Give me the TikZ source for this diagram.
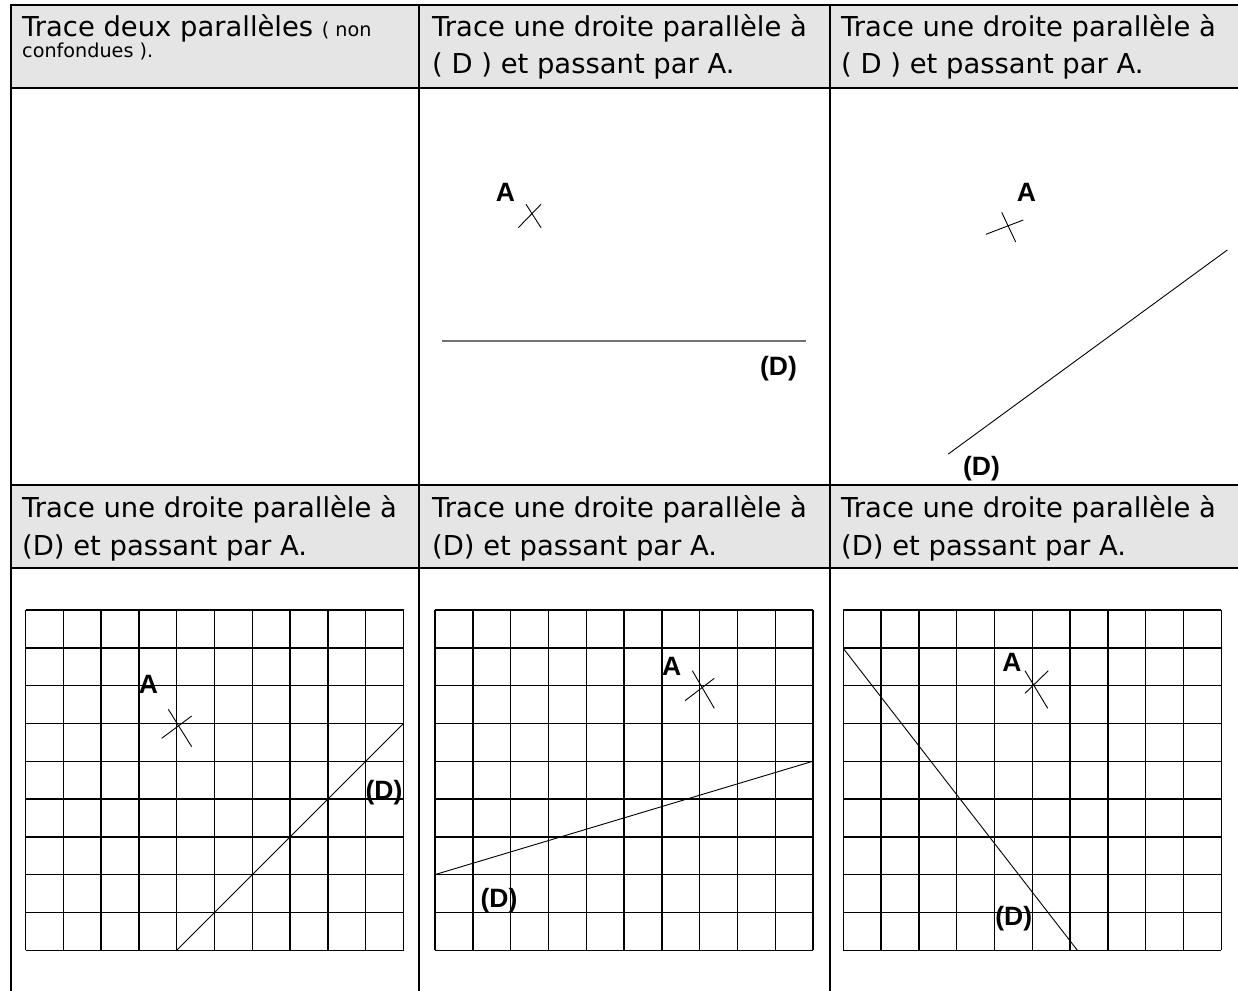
\documentclass[tikz,border=0pt]{standalone}
\usepackage{fontspec}
\setmainfont{DejaVu Sans}
\newfontfamily\lblfont{Liberation Sans}
\newcommand{\hdrsize}{\fontsize{27.4}{32}\selectfont}
\newcommand{\smallsize}{\fontsize{19.2}{22}\selectfont}
\begin{document}
\begin{tikzpicture}[x=1pt,y=-1pt,
  hdr/.style={inner sep=0pt, anchor=base west, font=\hdrsize},
  lbl/.style={inner sep=0pt, anchor=center, font=\lblfont\bfseries\fontsize{26.5}{30}\selectfont},
  border/.style={line width=2.6pt, line cap=rect},
  gridln/.style={line width=1.4pt},
  thinln/.style={line width=0.9pt},
  hline/.style={line width=1.6pt, draw=black!55}]
\useasboundingbox (0,0) rectangle (1238,990);
% header fills
\fill[black!10] (11,5) rectangle (1240,88);
\fill[black!10] (11,485) rectangle (1240,568);
% table borders
\draw[border] (1242,5) -- (11,5) -- (11,995);
\draw[border] (11,88) -- (1242,88);
\draw[border] (11,485) -- (1242,485);
\draw[border] (11,568) -- (1242,568);
\draw[border] (419,5) -- (419,995);
\draw[border] (830,5) -- (830,995);
% header texts row 1
\node[hdr, text depth=0pt] (h1a) at (22,37) {Trace deux parallèles {\smallsize ( non}};
\node[hdr, font=\smallsize, text height=11pt] (h1b) at (22,58) {confondues ).};
\node[hdr] (h2a) at (432,37) {Trace une droite parallèle à};
\node[hdr] (h2b) at (432,74) {( D ) et passant par A.};
\node[hdr] (h3a) at (841,37) {Trace une droite parallèle à};
\node[hdr] (h3b) at (841,74) {( D ) et passant par A.};
% header texts row 2
\node[hdr] (h4a) at (22,517) {Trace une droite parallèle à};
\node[hdr] (h4b) at (22,555) {(D) et passant par A.};
\node[hdr] (h5a) at (432,517) {Trace une droite parallèle à};
\node[hdr] (h5b) at (432,555) {(D) et passant par A.};
\node[hdr] (h6a) at (841,517) {Trace une droite parallèle à};
\node[hdr] (h6b) at (841,555) {(D) et passant par A.};
% panel 2
\coordinate (d2a) at (442,341);
\coordinate (d2b) at (806,341);
\draw[hline] (d2a) -- (d2b);
\draw[thinln] (518.3,227.7) -- (541,204.3);
\draw[thinln] (526,204.3) -- (541,227.7);
\node[lbl] (a2) at (505.5,192) {A};
\node[lbl] (dl2) at (778.5,368.5) {(D)};
% panel 3
\coordinate (d3a) at (948.3,454);
\coordinate (d3b) at (1227.3,250);
\draw[thinln] (d3a) -- (d3b);
\draw[thinln] (1001.7,212.3) -- (1015.7,242);
\draw[thinln] (986,234.3) -- (1023.3,220);
\node[lbl] (a3) at (1026.5,192) {A};
\node[lbl] (dl3) at (981.5,468.5) {(D)};
% grids
\foreach \gx in {25.5, 435, 843.3} {
  \foreach \i in {0,...,10} \draw[gridln] (\gx+\i*37.8, 610) -- (\gx+\i*37.8, 950.2);
  \foreach \j in {0,...,9} \draw[gridln] (\gx, 610+\j*37.8) -- (\gx+378, 610+\j*37.8);
}
% grid 1
\coordinate (g1a) at (176.7,950.2);
\coordinate (g1b) at (403.5,723.4);
\draw[thinln] (g1a) -- (g1b);
\draw[thinln] (168.3,709.3) -- (191.7,746.7);
\draw[thinln] (161.7,738.3) -- (191.7,716);
\node[lbl] (a4) at (148.5,684) {A};
\node[lbl] (dl4) at (384,793) {(D)};
% grid 2
\coordinate (g2a) at (435,874.6);
\coordinate (g2b) at (813,761.2);
\draw[thinln] (g2a) -- (g2b);
\draw[thinln] (692.3,670.7) -- (714.3,708.3);
\draw[thinln] (685,700.7) -- (714.3,678.3);
\node[lbl] (a5) at (671.7,666) {A};
\node[lbl] (dl5) at (499,901) {(D)};
% grid 3
\coordinate (g3a) at (843.3,648.4);
\coordinate (g3b) at (1077.3,950.2);
\draw[thinln] (g3a) -- (g3b);
\draw[thinln] (1025,670.7) -- (1047.7,708.3);
\draw[thinln] (1025,693.3) -- (1048.3,670.7);
\node[lbl] (a6) at (1012,662) {A};
\node[lbl] (dl6) at (1013.7,919) {(D)};
\end{tikzpicture}
\end{document}
